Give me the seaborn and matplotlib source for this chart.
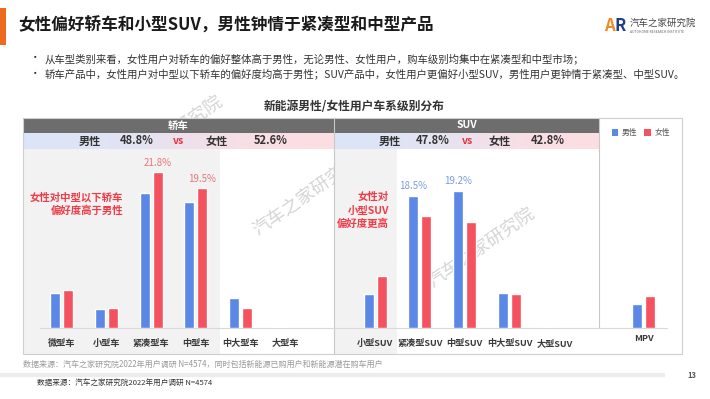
import matplotlib
matplotlib.use("Agg")
import matplotlib.pyplot as plt
import seaborn as sns
import numpy as np
import pandas as pd
from matplotlib.patches import Rectangle

# categories
sedan_cats = ["微型车", "小型车", "紧凑型车", "中型车", "中大型车", "大型车"]
suv_cats = ["小型SUV", "紧凑型SUV", "中型SUV", "中大型SUV", "大型SUV"]
mpv_cats = ["MPV"]

# share of users (%)
male_sedan = [4.9, 2.6, 18.9, 17.6, 4.2, 0.1]
female_sedan = [5.3, 2.8, 21.8, 19.5, 2.8, 0.05]
male_suv = [4.8, 18.5, 19.2, 4.9, 0.1]
female_suv = [7.3, 15.7, 14.8, 4.8, 0.0]
male_mpv = [3.3]
female_mpv = [4.5]

sedan_share = ["48.8%", "52.6%"]
suv_share = ["47.8%", "42.8%"]

# bars that carry a value label
labelled = [("紧凑型车", "女性"), ("中型车", "女性"), ("紧凑型SUV", "男性"), ("中型SUV", "男性")]

BLUE = "#5B87E6"
RED = "#F4525E"
W, H = 710, 399

sns.set_theme(style="white")
plt.rcParams['font.family'] = ['Noto Sans CJK SC', 'DejaVu Sans']
plt.rcParams['axes.unicode_minus'] = False


def build_frame():
    rows = []
    for cats, m, f in [(sedan_cats, male_sedan, female_sedan),
                       (suv_cats, male_suv, female_suv),
                       (mpv_cats, male_mpv, female_mpv)]:
        for c, mv, fv in zip(cats, m, f):
            rows.append((c, "男性", mv))
            rows.append((c, "女性", fv))
    return pd.DataFrame(rows, columns=["车型", "性别", "占比"])


df = build_frame()
# blank slots separate the three groups
order = sedan_cats + [" "] + suv_cats + ["  "] + mpv_cats

fig = plt.figure(figsize=(W / 100, H / 100), dpi=100)
fig.patch.set_facecolor("white")

# pixel-space canvas for the slide furniture
bg = fig.add_axes([0, 0, 1, 1], zorder=0)
bg.set_xlim(0, W)
bg.set_ylim(H, 0)
bg.axis("off")

# page header
bg.add_patch(Rectangle((0, 8), 6, 37, fc="#EE6A1F", ec="none"))
bg.text(18, 25, "女性偏好轿车和小型SUV，男性钟情于紧凑型和中型产品", fontsize=12,
        fontweight="bold", color="#1a1a1a", va="center", ha="left")
bullets = ["从车型类别来看，女性用户对轿车的偏好整体高于男性，无论男性、女性用户，购车级别均集中在紧凑型和中型市场；",
           "轿车产品中，女性用户对中型以下轿车的偏好度均高于男性；SUV产品中，女性用户更偏好小型SUV，男性用户更钟情于紧凑型、中型SUV。"]
for yy, b in zip([58.5, 74], bullets):
    bg.text(30, yy, "•", fontsize=7.5, color="#333333", va="center", ha="left")
    bg.text(45, yy, b, fontsize=7.5, color="#333333", va="center", ha="left")

# logo
bg.text(604, 26, "A", fontsize=12, fontweight="bold", color="#F08A24", va="center", ha="left", style="italic")
bg.text(615, 26, "R", fontsize=12, fontweight="bold", color="#1D3E8A", va="center", ha="left")
bg.text(630, 23.5, "汽车之家研究院", fontsize=6.8, color="#444444", va="center", ha="left")
bg.text(630, 32, "AUTOHOME RESEARCH INSTITUTE", fontsize=2.4, color="#666666", va="center", ha="left")

# chart title
bg.text(354, 106.5, "新能源男性/女性用户车系级别分布", fontsize=8.5, fontweight="bold",
        color="#333333", va="center", ha="center")

# watermarks (behind the shading)
for cx, cy in [(169, 136), (306, 196), (481, 248)]:
    bg.text(cx, cy, "汽车之家研究院", fontsize=13, color="#d4d4d4", rotation=35,
            va="center", ha="center", fontweight="light", zorder=0.5)

# shaded panels
bg.add_patch(Rectangle((23, 149), 197, 205, fc="#f2f2f2", ec="none", zorder=1))
bg.add_patch(Rectangle((334, 149), 63, 205, fc="#f2f2f2", ec="none", zorder=1))

# dark header bars
bg.add_patch(Rectangle((23, 118), 311, 15, fc="#6d6d6d", ec="none", zorder=2))
bg.add_patch(Rectangle((335, 118), 264, 15, fc="#6d6d6d", ec="none", zorder=2))
bg.text(178, 125.5, "轿车", fontsize=7.5, fontweight="bold", color="white", va="center", ha="center", zorder=3)
bg.text(467, 125.5, "SUV", fontsize=7.5, fontweight="bold", color="white", va="center", ha="center", zorder=3)

# blue -> pink share rows
c0 = np.array([220, 229, 248]) / 255
c1 = np.array([252, 222, 226]) / 255
t = np.linspace(0, 1, 256)
t = 1 / (1 + np.exp(-(t - 0.5) * 8))
grad = (c0[None, :] * (1 - t[:, None]) + c1[None, :] * t[:, None])[None, :, :]
bg.imshow(grad, extent=[23, 334, 149, 133], aspect="auto", zorder=2)
bg.imshow(grad, extent=[335, 599, 149, 133], aspect="auto", zorder=2)
bg.set_xlim(0, W)
bg.set_ylim(H, 0)


def share_row(xs, shares):
    kw = dict(fontsize=8, fontweight="bold", color="#333333", va="center", ha="center", zorder=3)
    bg.text(xs[0], 141, "男性", **kw)
    bg.text(xs[1], 141, shares[0], **kw)
    bg.text(xs[2], 141, "vs", fontsize=7.5, fontweight="bold", style="italic",
            color="#E8333D", va="center", ha="center", zorder=3)
    bg.text(xs[3], 141, "女性", **kw)
    bg.text(xs[4], 141, shares[1], **kw)


share_row([90, 137, 178, 217, 270.5], sedan_share)
share_row([389.5, 432.5, 467, 499.5, 547.5], suv_share)

# frame lines
bg.add_patch(Rectangle((23, 118), 659, 236, fill=False, ec="#cfcfcf", lw=0.8, zorder=3))
bg.plot([334, 334], [118, 354], color="#c8c8c8", lw=0.8, zorder=3)
bg.plot([599, 599], [118, 328], color="#c8c8c8", lw=0.8, zorder=3)
bg.plot([40, 667], [328, 328], color="#d9d9d9", lw=0.8, zorder=3)

# callouts
red_kw = dict(fontsize=7.5, fontweight="bold", color="#EE3D48", va="center", ha="right", zorder=3)
bg.text(123, 197, "女性对中型以下轿车", **red_kw)
bg.text(123, 211, "偏好度高于男性", **red_kw)
bg.text(389, 197, "女性对", **red_kw)
bg.text(389, 210.5, "小型SUV", **red_kw)
bg.text(389, 224, "偏好度更高", **red_kw)

# legend
bg.add_patch(Rectangle((611.5, 129), 6.5, 6.5, fc=BLUE, ec="none", zorder=3))
bg.text(621.5, 132.5, "男性", fontsize=5.6, color="#555555", va="center", ha="left", zorder=3)
bg.add_patch(Rectangle((644, 129), 6.5, 6.5, fc=RED, ec="none", zorder=3))
bg.text(654.5, 132.5, "女性", fontsize=5.6, color="#555555", va="center", ha="left", zorder=3)

# footer
bg.text(23, 364, "数据来源：汽车之家研究院2022年用户调研 N=4574，同时包括新能源已购用户和新能源潜在购车用户",
        fontsize=5.8, color="#9a9a9a", va="center", ha="left")
bg.plot([0, 665], [375, 375], color="#ececec", lw=3, solid_capstyle="butt")
bg.text(687, 375, "13", fontsize=5.5, fontweight="bold", color="#555555", va="center", ha="left")
bg.text(37, 384, "数据来源：汽车之家研究院2022年用户调研 N=4574", fontsize=5.5,
        color="#333333", va="center", ha="left")

# bar chart
ax = fig.add_axes([23 / W, 1 - 328 / H, (682 - 23) / W, (328 - 149) / H], zorder=1)
ax.patch.set_alpha(0)
sns.barplot(data=df, x="车型", y="占比", hue="性别", order=order, hue_order=["男性", "女性"],
            palette={"男性": BLUE, "女性": RED}, width=0.58, gap=0.23, saturation=1,
            legend=False, ax=ax)
ax.set_xlim(-0.86, 13.85)
ax.set_ylim(0, 25.0)
for s in ax.spines.values():
    s.set_visible(False)
ax.set_yticks([])
ax.set_xlabel("")
ax.set_ylabel("")
real = sedan_cats + suv_cats + mpv_cats
ax.set_xticks([order.index(c) for c in real])
# baseline alignment keeps every label on the same line
ax.set_xticklabels(real, fontsize=6.6, fontweight="bold", color="#3a3a3a", va="baseline")
ax.tick_params(axis="x", length=0, pad=13.2)
# MPV label sits a little higher in the original
ax.get_xticklabels()[-1].set_y(0.028)

lookup = df.set_index(["车型", "性别"])["占比"]
for cat, sex in labelled:
    off = -0.145 if sex == "男性" else 0.145
    col = "#7B9BE0" if sex == "男性" else "#E8747A"
    v = lookup[(cat, sex)]
    ax.annotate(f"{v:.1f}%", (order.index(cat) + off, v), xytext=(0, 3),
                textcoords="offset points", ha="center", va="bottom", fontsize=7, color=col)

fig.savefig("out.png", dpi=100)
